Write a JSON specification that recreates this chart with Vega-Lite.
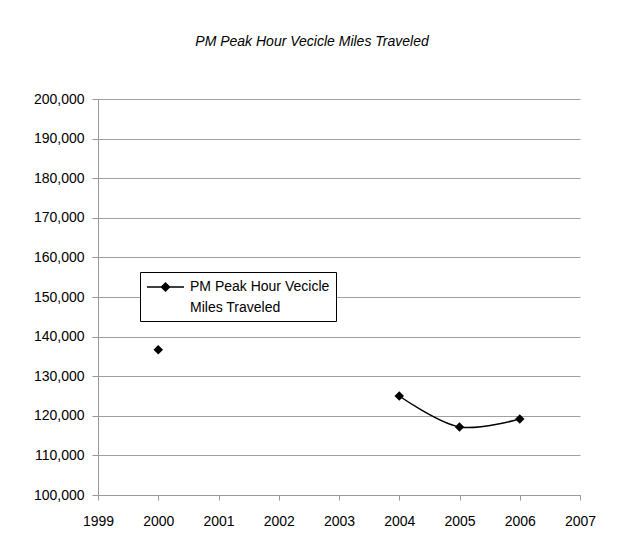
{
  "$schema": "https://vega.github.io/schema/vega-lite/v6.json",
  "width": 482,
  "height": 396,
  "autosize": "none",
  "padding": {"left": 98, "top": 99, "right": 39, "bottom": 55},
  "background": "white",
  "title": {
    "text": "PM Peak Hour Vecicle Miles Traveled",
    "font": "Liberation Sans",
    "fontSize": 14,
    "fontStyle": "italic",
    "fontWeight": "normal",
    "color": "#000",
    "anchor": "middle",
    "dx": -27,
    "offset": 32,
    "baseline": "alphabetic"
  },
  "data": {
    "values": [
      {"year": 2000, "vmt": 136700, "series": "PM Peak Hour Vecicle Miles Traveled"},
      {"year": 2004, "vmt": 125000, "series": "PM Peak Hour Vecicle Miles Traveled"},
      {"year": 2005, "vmt": 117200, "series": "PM Peak Hour Vecicle Miles Traveled"},
      {"year": 2006, "vmt": 119200, "series": "PM Peak Hour Vecicle Miles Traveled"}
    ]
  },
  "encoding": {
    "x": {
      "field": "year",
      "type": "quantitative",
      "scale": {"domain": [1999, 2007], "nice": false, "zero": false},
      "axis": {
        "title": null,
        "values": [1999, 2000, 2001, 2002, 2003, 2004, 2005, 2006, 2007],
        "format": "d",
        "grid": false,
        "domainColor": "#999999",
        "tickColor": "#999999",
        "tickSize": 5,
        "labelPadding": 14,
        "labelFont": "Liberation Sans",
        "labelFontSize": 14,
        "labelColor": "#000",
        "labelFlush": false
      }
    },
    "y": {
      "field": "vmt",
      "type": "quantitative",
      "scale": {"domain": [100000, 200000], "nice": false, "zero": false},
      "axis": {
        "title": null,
        "values": [100000, 110000, 120000, 130000, 140000, 150000, 160000, 170000, 180000, 190000, 200000],
        "format": ",d",
        "grid": true,
        "gridColor": "#a0a0a0",
        "domainColor": "#999999",
        "tickColor": "#999999",
        "tickSize": 6,
        "labelPadding": 8,
        "labelFont": "Liberation Sans",
        "labelFontSize": 14,
        "labelColor": "#000",
        "labelFlush": false
      }
    }
  },
  "layer": [
    {
      "transform": [{"filter": "datum.year >= 2004"}],
      "mark": {"type": "line", "interpolate": "catmull-rom", "color": "#000", "strokeWidth": 1.5}
    },
    {
      "mark": {"type": "point", "shape": "diamond", "filled": true, "size": 90, "opacity": 1},
      "encoding": {
        "color": {
          "field": "series",
          "type": "nominal",
          "scale": {"range": ["#000000"]},
          "legend": {
            "orient": "none",
            "legendX": 42,
            "legendY": 173,
            "title": null,
            "strokeColor": "#000",
            "fillColor": "#fff",
            "padding": 6,
            "symbolType": "M-1,0L3.625,0M0.81,0L1.31,-0.5L1.81,0L1.31,0.5Z",
            "symbolSize": 256,
            "symbolStrokeWidth": 1.5,
            "symbolStrokeColor": "#000",
            "symbolFillColor": "#000",
            "labelExpr": "['PM Peak Hour Vecicle', 'Miles Traveled']",
            "labelFont": "Liberation Sans",
            "labelFontSize": 14,
            "labelColor": "#000",
            "labelLimit": 300,
            "labelOffset": 26
          }
        }
      }
    }
  ],
  "config": {
    "view": {"stroke": null},
    "style": {"guide-label": {"lineHeight": 21}}
  }
}
